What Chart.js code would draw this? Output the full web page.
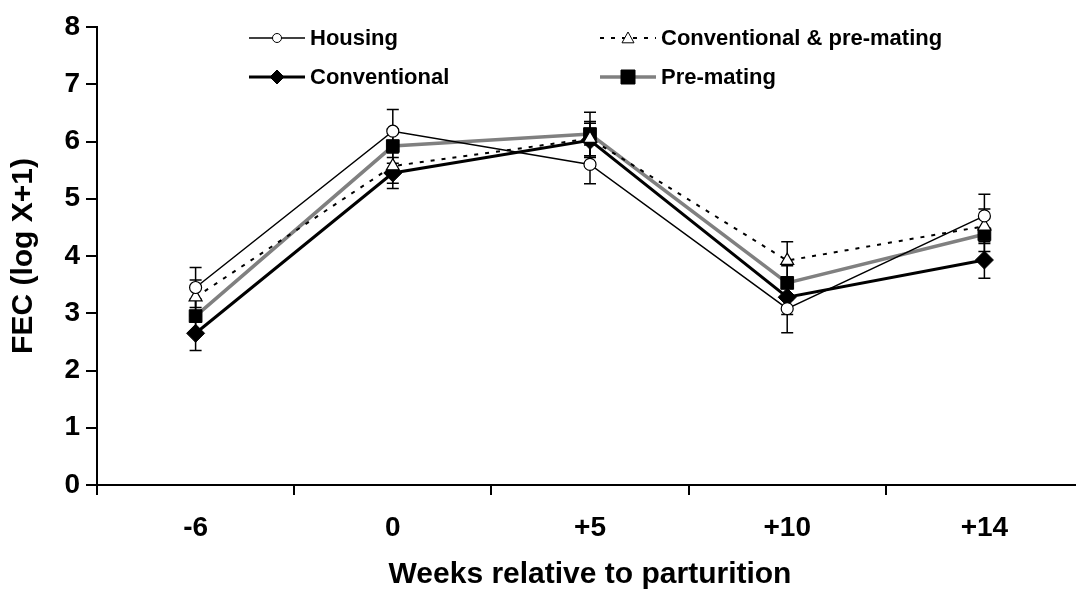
<!DOCTYPE html>
<html>
<head>
<meta charset="utf-8">
<script src="https://cdn.jsdelivr.net/npm/chart.js@4.4.0/dist/chart.umd.min.js"></script>
<style>
  html, body { margin: 0; padding: 0; background: #fff; overflow: hidden; }
  canvas { display: block; }
</style>
</head>
<body>
<canvas id="myChart" width="1093" height="593"></canvas>
<script>
// data
const weeks = ['-6', '0', '+5', '+10', '+14'];
const housing = [3.45, 6.18, 5.6, 3.08, 4.7];
const conventional = [2.65, 5.45, 6.02, 3.28, 3.93];
const convPreMating = [3.28, 5.57, 6.05, 3.92, 4.52];
const preMating = [2.95, 5.92, 6.13, 3.53, 4.38];
// standard errors
const housingErr = [0.35, 0.38, 0.34, 0.42, 0.38];
const conventionalErr = [0.3, 0.27, 0.3, 0.3, 0.32];
const convPreMatingErr = [0.3, 0.3, 0.3, 0.33, 0.3];
const preMatingErr = [0.3, 0.3, 0.38, 0.3, 0.3];

const FONT = 'Liberation Sans, Arial, sans-serif';

const errorBars = {
  id: 'errorBars',
  beforeDatasetsDraw(chart) {
    const c = chart.ctx;
    const y = chart.scales.y;
    c.save();
    c.strokeStyle = '#000';
    c.lineWidth = 1.5;
    chart.data.datasets.forEach((ds, i) => {
      const meta = chart.getDatasetMeta(i);
      meta.data.forEach((pt, j) => {
        const v = ds.data[j], e = ds.errors[j];
        const top = y.getPixelForValue(v + e);
        const bot = y.getPixelForValue(v - e);
        c.beginPath();
        c.moveTo(pt.x, top); c.lineTo(pt.x, bot);
        c.moveTo(pt.x - 6, top); c.lineTo(pt.x + 6, top);
        c.moveTo(pt.x - 6, bot); c.lineTo(pt.x + 6, bot);
        c.stroke();
      });
    });
    c.restore();
  }
};

const insideLegend = {
  id: 'insideLegend',
  afterDraw(chart) {
    const c = chart.ctx;
    const spots = [[249, 38], [249, 77], [600, 38], [600, 77]];
    c.save();
    c.font = 'bold 22px ' + FONT;
    c.textBaseline = 'middle';
    chart.data.datasets.forEach((ds, k) => {
      const [x, y] = spots[k];
      const w = 56;
      c.strokeStyle = ds.borderColor;
      c.lineWidth = ds.borderWidth;
      c.setLineDash(ds.borderDash || []);
      c.beginPath(); c.moveTo(x, y); c.lineTo(x + w, y); c.stroke();
      c.setLineDash([]);
      const mx = x + w / 2;
      const r = ds.legendRadius;
      c.fillStyle = ds.pointBackgroundColor;
      c.strokeStyle = '#000';
      c.lineWidth = 1;
      c.beginPath();
      if (ds.pointStyle === 'circle') c.arc(mx, y, r, 0, Math.PI * 2);
      else if (ds.pointStyle === 'rectRot') { c.moveTo(mx, y - r); c.lineTo(mx + r, y); c.lineTo(mx, y + r); c.lineTo(mx - r, y); c.closePath(); }
      else if (ds.pointStyle === 'triangle') { c.moveTo(mx, y - r); c.lineTo(mx + r, y + r * 0.8); c.lineTo(mx - r, y + r * 0.8); c.closePath(); }
      else c.rect(mx - r, y - r, 2 * r, 2 * r);
      c.fill(); c.stroke();
      c.fillStyle = '#000';
      c.fillText(ds.label, x + w + 5, y + 1);
    });
    c.restore();
  }
};

let ctx = document.querySelector('#myChart').getContext('2d');
let myChart = new Chart(ctx, {
  type: 'line',
  data: {
    labels: weeks,
    datasets: [{
      label: 'Housing',
      data: housing,
      errors: housingErr,
      borderColor: '#000',
      borderWidth: 1.5,
      pointStyle: 'circle',
      pointRadius: 6,
      legendRadius: 4.5,
      pointBackgroundColor: '#fff',
      pointBorderColor: '#000',
      pointBorderWidth: 1.2,
      order: 1
    }, {
      label: 'Conventional',
      data: conventional,
      errors: conventionalErr,
      borderColor: '#000',
      borderWidth: 3,
      pointStyle: 'rectRot',
      pointRadius: 9,
      legendRadius: 7,
      pointBackgroundColor: '#000',
      pointBorderColor: '#000',
      pointBorderWidth: 1,
      order: 4
    }, {
      label: 'Conventional & pre-mating',
      data: convPreMating,
      errors: convPreMatingErr,
      borderColor: '#000',
      borderWidth: 2,
      borderDash: [4, 7],
      pointStyle: 'triangle',
      pointRadius: 7.5,
      legendRadius: 6,
      pointBackgroundColor: '#fff',
      pointBorderColor: '#000',
      pointBorderWidth: 1.2,
      order: 2
    }, {
      label: 'Pre-mating',
      data: preMating,
      errors: preMatingErr,
      borderColor: '#808080',
      borderWidth: 3.5,
      pointStyle: 'rect',
      pointRadius: 9,
      legendRadius: 7,
      pointBackgroundColor: '#000',
      pointBorderColor: '#000',
      pointBorderWidth: 1,
      order: 3
    }]
  },
  options: {
    responsive: false,
    animation: false,
    layout: { padding: { top: 27, right: 0, left: 0, bottom: 0 } },
    elements: { line: { tension: 0 } },
    plugins: {
      legend: { display: false },
      tooltip: { enabled: false }
    },
    scales: {
      x: {
        offset: true,
        grid: { display: true, offset: true, drawOnChartArea: false, drawTicks: true, tickLength: 10, color: '#000', lineWidth: 2 },
        border: { display: true, color: '#000', width: 2 },
        ticks: { color: '#000', padding: 16, font: { family: FONT, size: 28, weight: 'bold' } },
        title: {
          display: true,
          text: 'Weeks relative to parturition',
          color: '#000',
          padding: { top: 0, bottom: 0 },
          font: { family: FONT, size: 30, weight: 'bold' }
        },
        afterFit(scale) { scale.height = 108; }
      },
      y: {
        min: 0,
        max: 8,
        grid: { display: true, drawOnChartArea: false, drawTicks: true, tickLength: 11, color: '#000', lineWidth: 2 },
        border: { display: true, color: '#000', width: 2 },
        ticks: { stepSize: 1, color: '#000', padding: 6, font: { family: FONT, size: 28, weight: 'bold' } },
        title: {
          display: true,
          text: 'FEC (log X+1)',
          color: '#000',
          padding: { top: 6, bottom: 6 },
          font: { family: FONT, size: 30, weight: 'bold' }
        },
        afterFit(scale) { scale.width = 97; }
      }
    }
  },
  plugins: [errorBars, insideLegend]
});
</script>
</body>
</html>
